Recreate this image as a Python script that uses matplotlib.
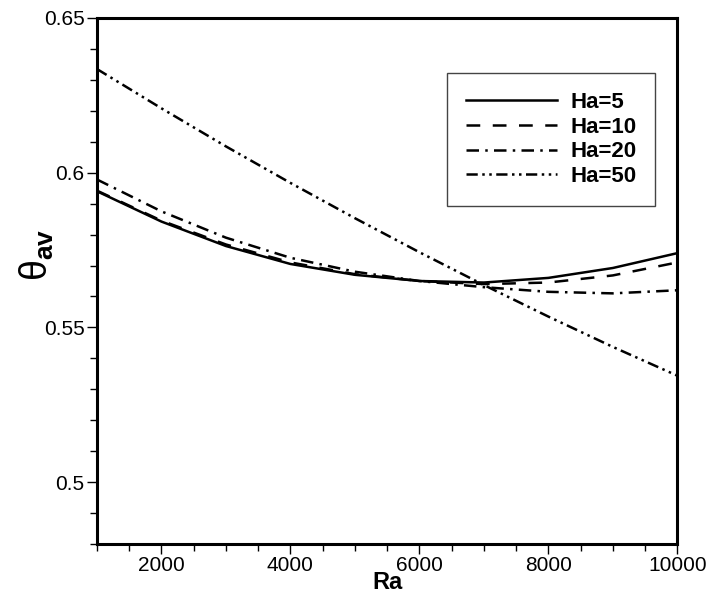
import matplotlib.pyplot as plt
from matplotlib.ticker import MultipleLocator

plt.rcParams['font.family'] = ['Liberation Sans', 'DejaVu Sans']
plt.rcParams['mathtext.fontset'] = 'custom'
plt.rcParams['mathtext.bf'] = 'Liberation Sans:bold'
plt.rcParams['mathtext.rm'] = 'Liberation Sans'

# datos
ra = [1000, 2000, 3000, 4000, 5000, 6000, 7000, 8000, 9000, 10000]
ha5 = [0.5940, 0.5842, 0.5763, 0.5705, 0.5670, 0.5650, 0.5645, 0.5660, 0.5692, 0.5740]
ha10 = [0.5942, 0.5845, 0.5768, 0.5710, 0.5672, 0.5650, 0.5640, 0.5645, 0.5668, 0.5710]
ha20 = [0.5978, 0.5875, 0.5790, 0.5725, 0.5680, 0.5650, 0.5630, 0.5615, 0.5610, 0.5620]
ha50 = [0.6335, 0.6208, 0.6085, 0.5967, 0.5853, 0.5743, 0.5637, 0.5535, 0.5437, 0.5344]
etiquetas = ['Ha=5', 'Ha=10', 'Ha=20', 'Ha=50']

fig = plt.figure(figsize=(7.09, 5.94), dpi=100)
ax = fig.add_axes([0.1368, 0.0842, 0.8185, 0.8855])

lw = 1.8
ax.plot(ra, ha5, color='k', lw=lw, linestyle='-', label=etiquetas[0])
ax.plot(ra, ha10, color='k', lw=lw, linestyle=(0, (5.5, 5)), label=etiquetas[1])
ax.plot(ra, ha20, color='k', lw=lw, linestyle=(0, (5, 2.5, 1, 2.5)), label=etiquetas[2])
ax.plot(ra, ha50, color='k', lw=lw, linestyle=(0, (4.5, 1.8, 1, 1.8, 1, 1.8)), label=etiquetas[3])

ax.set_xlim(1000, 10000)
ax.set_ylim(0.48, 0.65)
ax.xaxis.set_minor_locator(MultipleLocator(500))
ax.yaxis.set_minor_locator(MultipleLocator(0.01))
ax.set_xticks([2000, 4000, 6000, 8000, 10000])
ax.set_yticks([0.5, 0.55, 0.6, 0.65])
ax.set_yticklabels(['0.5', '0.55', '0.6', '0.65'])

ax.tick_params(which='major', direction='out', length=7, width=1, labelsize=15, pad=2)
ax.tick_params(which='minor', direction='out', length=5, width=1)
for s in ax.spines.values():
    s.set_linewidth(2.2)

ax.set_xlabel('Ra', fontsize=17, fontweight='bold', labelpad=-3)
ax.set_ylabel(r'$\mathrm{θ}_{\mathbf{av}}$', fontsize=27)
ax.yaxis.set_label_coords(-0.07, 0.55)

leg = ax.legend(loc='upper left', bbox_to_anchor=(0.603, 0.8954), borderaxespad=0,
                prop={'size': 16, 'weight': 'bold'}, handlelength=4.1, labelspacing=0.17,
                borderpad=0.85, handletextpad=0.6, fancybox=False, framealpha=1)
leg.get_frame().set_edgecolor('#444444')
leg.get_frame().set_linewidth(1)

fig.savefig('out.png', dpi=100)
